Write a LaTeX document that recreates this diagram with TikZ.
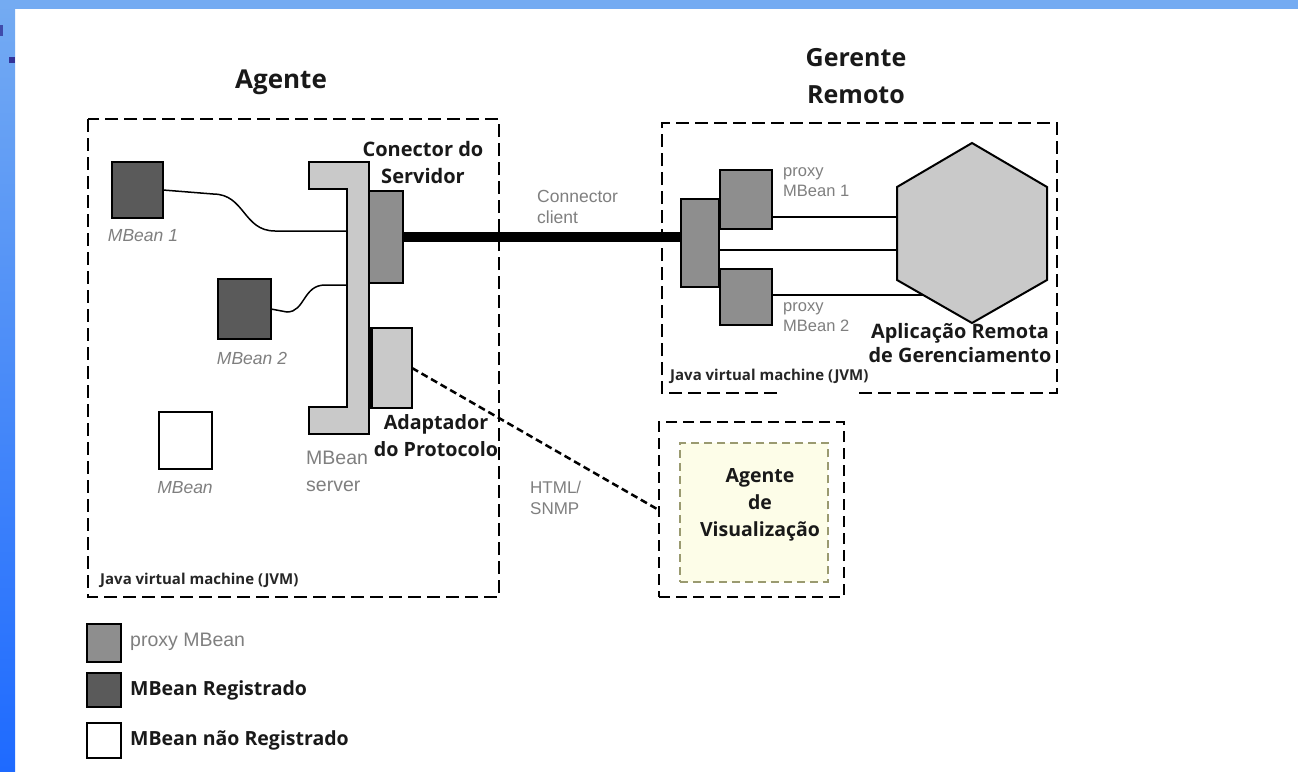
\documentclass[tikz,border=0pt]{standalone}
\usepackage{fontspec}
\setmainfont{Liberation Sans}
\newfontfamily\ob{Open Sans}
\definecolor{dgray}{HTML}{5A5A5A}
\definecolor{mgray}{HTML}{8E8E8E}
\definecolor{lgray}{HTML}{C9C9C9}
\definecolor{txtgray}{HTML}{7F7F7F}
\definecolor{bandtop}{HTML}{74ABF2}
\definecolor{bandbot}{HTML}{1E6AFF}
\definecolor{bullet}{HTML}{333399}
\definecolor{visfill}{HTML}{FDFDE8}
\definecolor{visline}{HTML}{9A9A70}
\tikzset{
  boxbase/.style={draw=black, line width=2pt, inner sep=0pt, outer sep=0pt},
  darkbox/.style={boxbase, fill=dgray},
  medbox/.style={boxbase, fill=mgray},
  lightbox/.style={boxbase, fill=lgray},
  whitebox/.style={boxbase, fill=white},
  jvmframe/.style={draw=black, line width=2.2pt, dash pattern=on 13pt off 6pt},
  boldlbl/.style={font=\ob\bfseries\fontsize{20}{27}\selectfont, text=black!90, align=center, inner sep=0pt},
  greylbl/.style={font=\fontsize{18}{21}\selectfont, text=txtgray, align=left, inner sep=0pt},
  jvmlbl/.style={font=\ob\bfseries\fontsize{15}{18}\selectfont, text=black!85, inner sep=0pt, anchor=west},
  wire/.style={draw=black, line width=1.5pt},
}
\begin{document}
\begin{tikzpicture}[x=1pt,y=-1pt]
\useasboundingbox (0,0) rectangle (1298,771);
% background bands
\fill[white] (0,0) rectangle (1298,771);
\shade[top color=bandtop, bottom color=bandbot] (0,0) rectangle (15,771);
\fill[bandtop] (0,0) rectangle (1298,9);
\fill[bullet] (9,57) rectangle (15,63);
\fill[bullet!80!bandtop] (0,25) rectangle (2.5,36);

% titles
\node[boldlbl, font=\ob\bfseries\fontsize{26}{30}\selectfont] (tAg) at (281,82) {Agente};
\node[boldlbl, font=\ob\bfseries\fontsize{25}{37}\selectfont] (tGr) at (856,76) {Gerente\\Remoto};

% left JVM frame
\draw[jvmframe] (88,119) rectangle (499,597);
\node[jvmlbl] (jvmL) at (100,580) {Java virtual machine (JVM)};

% MBeans
\node[darkbox, minimum width=51pt, minimum height=56pt] (mb1) at (137.5,190) {};
\node[greylbl, font=\itshape\fontsize{17.5}{21}\selectfont] (lmb1) at (143,236) {MBean 1};
\node[darkbox, minimum width=53pt, minimum height=60pt] (mb2) at (244.5,309) {};
\node[greylbl, font=\itshape\fontsize{17.5}{21}\selectfont] (lmb2) at (252,358) {MBean 2};
\node[whitebox, minimum width=53pt, minimum height=57pt] (mb3) at (185.5,440.5) {};
\node[greylbl, font=\itshape\fontsize{17.5}{21}\selectfont] (lmb3) at (185,488) {MBean};

% MBean server
\draw[lightbox] (309,162) -- (369,162) -- (369,434) -- (309,434) -- (309,407) -- (347,407) -- (347,189) -- (309,189) -- cycle;
\coordinate (srv1) at (347,231);
\coordinate (srv2) at (347,285);
\node[greylbl, font=\fontsize{19.5}{27}\selectfont, anchor=west] (lsrv) at (306,471) {MBean\\server};

% connector server and adapter
\node[medbox, minimum width=34pt, minimum height=92pt] (conS) at (386,237) {};
\node[lightbox, minimum width=41pt, minimum height=80pt] (ada) at (391.5,368) {};
\draw[line width=3.5pt] (ada.north west) -- (ada.south west);
\node[boldlbl] (lconS) at (423,162) {Conector do\\Servidor};
\node[boldlbl, font=\ob\bfseries\fontsize{19.7}{27}\selectfont] (lada) at (436,436) {Adaptador\\do Protocolo};

% wires from MBeans
\draw[wire] (mb1.east) -- (213,194) .. controls (245,194) and (243,231) .. (275,231) -- (srv1);
\draw[wire] (mb2.east) -- (287,312) .. controls (305,312) and (303,285) .. (325,285) -- (srv2);

% right JVM frame
\draw[jvmframe] (777,393) -- (662,393) -- (662,123) -- (1057,123) -- (1057,393) -- (857,393);
\node[jvmlbl] (jvmR) at (670,376) {Java virtual machine (JVM)};

\node[medbox, minimum width=38pt, minimum height=88pt] (conC) at (700,243) {};
\node[medbox, minimum width=52pt, minimum height=59pt] (prx1) at (746,199.5) {};
\node[medbox, minimum width=52pt, minimum height=56pt] (prx2) at (746,297) {};
\node[greylbl, font=\fontsize{16.5}{20}\selectfont, anchor=west] (lprx1) at (783,182) {proxy\\MBean 1};
\node[greylbl, font=\fontsize{16.5}{20}\selectfont, anchor=west] (lprx2) at (783,317) {proxy\\MBean 2};

% hexagon
\draw[boxbase, fill=lgray] (972,143) -- (1047,187) -- (1047,280) -- (972,323) -- (897,280) -- (897,187) -- cycle;
\coordinate (hx1) at (897,217);
\coordinate (hx2) at (897,250);
\coordinate (hx3) at (923,295);
\node[boldlbl, font=\ob\bfseries\fontsize{19.9}{23.5}\selectfont] (lhex) at (960,343) {Aplicação Remota\\de Gerenciamento};

\draw[wire] (prx1.east |- hx1) -- (hx1);
\draw[wire] (conC.east |- hx2) -- (hx2);
\draw[wire] (prx2.east |- hx3) -- (hx3);

% thick connector
\draw[line width=10pt] (conS.east) -- (conS.east -| conC.west);
\node[greylbl, font=\fontsize{17.5}{21}\selectfont, anchor=west] (lcc) at (537,207) {Connector\\client};

% visualization agent
\node[draw=black, line width=2.2pt, dash pattern=on 11pt off 6pt, minimum width=185pt, minimum height=175pt, inner sep=0pt] (vis) at (751.5,509.5) {};
\node[draw=visline, fill=visfill, line width=1.5pt, dash pattern=on 8pt off 5pt, minimum width=148pt, minimum height=139pt, inner sep=0pt] (visIn) at (754,512.5) {};
\node[boldlbl, font=\ob\bfseries\fontsize{19.5}{27}\selectfont] (lvis) at (760,505) {Agente\\de\\Visualização};

% HTML/SNMP link
\draw[line width=2.5pt, dash pattern=on 7pt off 4pt] (ada.east) -- (vis.west);
\node[greylbl, font=\fontsize{17}{21}\selectfont, anchor=west] (lhtml) at (530,498) {HTML/\\SNMP};

% legend
\node[medbox, minimum width=34pt, minimum height=38pt] (lg1) at (104,643) {};
\node[darkbox, minimum width=34pt, minimum height=34pt] (lg2) at (104,690) {};
\node[whitebox, minimum width=34pt, minimum height=35pt] (lg3) at (104,740.5) {};
\node[greylbl, font=\fontsize{19.5}{22}\selectfont, anchor=west] (llg1) at (130,642) {proxy MBean};
\node[boldlbl, font=\ob\bfseries\fontsize{19.5}{22}\selectfont, anchor=west] (llg2) at (130,690) {MBean Registrado};
\node[boldlbl, font=\ob\bfseries\fontsize{19.5}{22}\selectfont, anchor=west] (llg3) at (130,740) {MBean não Registrado};
\end{tikzpicture}
\end{document}
